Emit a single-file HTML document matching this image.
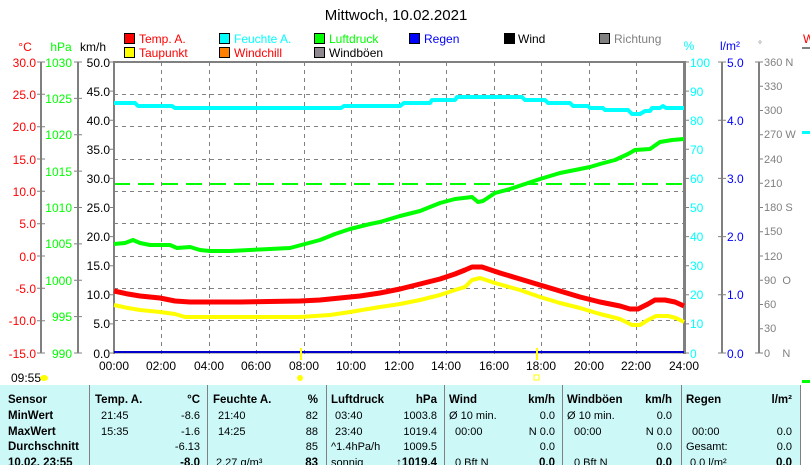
<!DOCTYPE html>
<html><head><meta charset="utf-8"><style>
html,body{margin:0;padding:0;background:#fff;width:810px;height:465px;overflow:hidden}
svg{display:block;font-family:"Liberation Sans",sans-serif}
</style></head><body>
<svg width="810" height="465" viewBox="0 0 810 465" xmlns="http://www.w3.org/2000/svg">
<rect width="810" height="465" fill="#fff"/>
<text x="396" y="20" font-size="15" text-anchor="middle">Mittwoch, 10.02.2021</text>
<!-- legend -->
<g font-size="12">
<rect x="124.5" y="33.5" width="10" height="10" fill="#f00" stroke="#000"/><text x="139" y="43" fill="#f00">Temp. A.</text>
<rect x="219.5" y="33.5" width="10" height="10" fill="#0ff" stroke="#000"/><text x="234" y="43" fill="#0ff">Feuchte A.</text>
<rect x="314.5" y="33.5" width="10" height="10" fill="#0f0" stroke="#000"/><text x="329" y="43" fill="#0f0">Luftdruck</text>
<rect x="409.5" y="33.5" width="10" height="10" fill="#00f" stroke="#000"/><text x="424" y="43" fill="#00f">Regen</text>
<rect x="504.5" y="33.5" width="10" height="10" fill="#000" stroke="#000"/><text x="518" y="43" fill="#000">Wind</text>
<rect x="599.5" y="33.5" width="10" height="10" fill="#808080" stroke="#000"/><text x="614" y="43" fill="#808080">Richtung</text>
<rect x="124.5" y="47.5" width="10" height="10" fill="#ff0" stroke="#000"/><text x="139" y="57" fill="#f00">Taupunkt</text>
<rect x="219.5" y="47.5" width="10" height="10" fill="#ff8000" stroke="#000"/><text x="234" y="57" fill="#f00">Windchill</text>
<rect x="314.5" y="47.5" width="10" height="10" fill="#908890" stroke="#000"/><text x="329" y="57" fill="#000">Windböen</text>
</g>
<!-- units -->
<g font-size="12">
<text x="25" y="51" fill="#f00" text-anchor="middle">°C</text>
<text x="61" y="51" fill="#0f0" text-anchor="middle">hPa</text>
<text x="93" y="51" fill="#000" text-anchor="middle">km/h</text>
<text x="689" y="50" fill="#0ff" text-anchor="middle">%</text>
<text x="730" y="50" fill="#00f" text-anchor="middle">l/m²</text>
<text x="760" y="48" fill="#808080" font-size="10" text-anchor="middle">°</text>
<text x="803" y="43" fill="#f00">W</text>
</g>
<rect x="802" y="47" width="8" height="2" fill="#808080"/>
<rect x="802" y="131" width="8" height="3" fill="#0ff"/>
<!-- grid -->
<g stroke="#808080" stroke-dasharray="4,4" stroke-width="1">
<line x1="114" x2="684" y1="94.5" y2="94.5"/><line x1="114" x2="684" y1="126.5" y2="126.5"/>
<line x1="114" x2="684" y1="159.5" y2="159.5"/><line x1="114" x2="684" y1="191.5" y2="191.5"/>
<line x1="114" x2="684" y1="223.5" y2="223.5"/><line x1="114" x2="684" y1="256.5" y2="256.5"/>
<line x1="114" x2="684" y1="288.5" y2="288.5"/><line x1="114" x2="684" y1="320.5" y2="320.5"/>
<line y1="62" y2="356" x1="161.5" x2="161.5"/><line y1="62" y2="356" x1="209.5" x2="209.5"/>
<line y1="62" y2="356" x1="256.5" x2="256.5"/><line y1="62" y2="356" x1="304.5" x2="304.5"/>
<line y1="62" y2="356" x1="351.5" x2="351.5"/><line y1="62" y2="356" x1="399.5" x2="399.5"/>
<line y1="62" y2="356" x1="446.5" x2="446.5"/><line y1="62" y2="356" x1="494.5" x2="494.5"/>
<line y1="62" y2="356" x1="541.5" x2="541.5"/><line y1="62" y2="356" x1="589.5" x2="589.5"/>
<line y1="62" y2="356" x1="636.5" x2="636.5"/>
</g>
<line x1="114" x2="684" y1="184" y2="184" stroke="#0f0" stroke-width="2" stroke-dasharray="16,8"/>
<!-- frame -->
<line x1="113" x2="686" y1="62" y2="62" stroke="#808080" stroke-width="2"/>
<line x1="114" x2="114" y1="61" y2="354" stroke="#808080" stroke-width="2"/>
<line x1="684.5" x2="684.5" y1="61" y2="354" stroke="#808080" stroke-width="3"/>
<line x1="114" x2="684" y1="353" y2="353" stroke="#808080" stroke-width="1"/>
<line x1="114" x2="684" y1="352" y2="352" stroke="#00c" stroke-width="2"/>
<!-- series -->
<g fill="none" stroke-linejoin="round">
<polyline stroke="#0ff" stroke-width="4" points="114,103 135,103 138,106 172,106 175,108 341,108 344,106 400,106 404,103 430,103 432,100 455,100 457,97 522,97 525,100 545,100 548,103 570,103 573,106 588,106 590,108 603,108 605,110 628,110 632,114 640,114 645,111 650,111 652,108 660,108 663,106 666,108 684,108"/>
<polyline stroke="#0f0" stroke-width="4" points="114,244 125,243 133,240 140,243 150,245 170,245 177,248 190,247 200,250 210,251 230,251 250,250 270,249 290,248 305,244 320,240 335,234 350,229 370,224 380,222 400,216 420,211 440,203 455,199 472,197 478,202 483,201 495,193 510,189 525,184 540,179 560,173 575,170 590,167 600,164 615,160 628,154 635,150 650,149 660,142 672,140 684,139"/>
<polyline stroke="#f00" stroke-width="5" points="114,291 128,294 140,296 160,298 175,301 190,302 240,302 300,301 320,300 340,298 360,296 380,293 400,289 420,284 440,279 455,274 465,270 472,267 482,267 500,273 520,279 540,285 560,291 580,297 600,302 620,306 630,309 638,309 648,304 655,300 665,300 675,302 684,306"/>
<polyline stroke="#ff0" stroke-width="4" points="114,305 128,308 140,310 160,312 175,314 185,317 250,317 300,317 330,315 350,312 380,307 400,304 420,300 440,295 455,290 465,287 472,280 480,278 495,283 520,290 540,297 560,303 580,308 600,314 620,319 632,325 640,325 648,320 656,316 668,316 676,318 684,322"/>
</g>
<!-- left axes -->
<g stroke="#808080" stroke-width="2"><line x1="41" x2="41" y1="62" y2="353"/><line x1="78" x2="78" y1="62" y2="353"/><line x1="722" x2="722" y1="62" y2="353"/><line x1="759" x2="759" y1="62" y2="353"/></g>
<g stroke="#808080" stroke-width="1">
<path d="M37 62h8M37 94.3h8M37 126.7h8M37 159h8M37 191.3h8M37 223.7h8M37 256h8M37 288.3h8M37 320.7h8M37 353h8"/>
<path d="M74 62h8M74 98.4h8M74 134.8h8M74 171.1h8M74 207.5h8M74 243.9h8M74 280.3h8M74 316.6h8M74 353h8"/>
<path d="M110 62h4M110 91.1h4M110 120.2h4M110 149.3h4M110 178.4h4M110 207.5h4M110 236.6h4M110 265.7h4M110 294.8h4M110 323.9h4M110 353h4"/>
<path d="M684 62h5M684 91.1h5M684 120.2h5M684 149.3h5M684 178.4h5M684 207.5h5M684 236.6h5M684 265.7h5M684 294.8h5M684 323.9h5M684 353h5"/>
<path d="M718 62h8M718 120.2h8M718 178.4h8M718 236.6h8M718 294.8h8M718 353h8"/>
<path d="M755 62h8M759 86.3h4M759 110.5h4M759 134.8h4M759 159h4M759 183.3h4M759 207.5h4M759 231.8h4M759 256h4M759 280.3h4M759 304.5h4M759 328.8h4M755 353h8"/>
</g>
<g font-size="12" text-anchor="end">
<g fill="#f00"><text x="36" y="67">30.0</text><text x="36" y="99">25.0</text><text x="36" y="131">20.0</text><text x="36" y="164">15.0</text><text x="36" y="196">10.0</text><text x="36" y="228">5.0</text><text x="36" y="261">0.0</text><text x="36" y="293">-5.0</text><text x="36" y="325">-10.0</text><text x="36" y="358">-15.0</text></g>
<g fill="#0f0"><text x="72" y="67">1030</text><text x="72" y="103">1025</text><text x="72" y="139">1020</text><text x="72" y="176">1015</text><text x="72" y="212">1010</text><text x="72" y="248">1005</text><text x="72" y="285">1000</text><text x="72" y="321">995</text><text x="72" y="358">990</text></g>
<g fill="#000"><text x="110" y="67">50.0</text><text x="110" y="96">45.0</text><text x="110" y="125">40.0</text><text x="110" y="154">35.0</text><text x="110" y="183">30.0</text><text x="110" y="212">25.0</text><text x="110" y="241">20.0</text><text x="110" y="270">15.0</text><text x="110" y="299">10.0</text><text x="110" y="328">5.0</text><text x="110" y="358">0.0</text></g>
</g>
<g font-size="12" fill="#0ff"><text x="690" y="67">100</text><text x="690" y="96">90</text><text x="690" y="125">80</text><text x="690" y="154">70</text><text x="690" y="183">60</text><text x="690" y="212">50</text><text x="690" y="241">40</text><text x="690" y="270">30</text><text x="690" y="299">20</text><text x="690" y="328">10</text><text x="690" y="358">0</text></g>
<g font-size="12" fill="#00f"><text x="727" y="67">5.0</text><text x="727" y="125">4.0</text><text x="727" y="183">3.0</text><text x="727" y="241">2.0</text><text x="727" y="299">1.0</text><text x="727" y="358">0.0</text></g>
<g font-size="11" fill="#808080"><text x="764" y="66">360 N</text><text x="764" y="90">330</text><text x="764" y="114">300</text><text x="764" y="138">270 W</text><text x="764" y="163">240</text><text x="764" y="187">210</text><text x="764" y="211">180 S</text><text x="764" y="235">150</text><text x="764" y="260">120</text><text x="764" y="284">90&#160;&#160;O</text><text x="764" y="308">60</text><text x="764" y="332">30</text><text x="764" y="357">0&#160;&#160;&#160;&#160;N</text></g>
<g font-size="12" text-anchor="middle"><text x="114" y="370">00:00</text><text x="161" y="370">02:00</text><text x="209" y="370">04:00</text><text x="256" y="370">06:00</text><text x="304" y="370">08:00</text><text x="351" y="370">10:00</text><text x="399" y="370">12:00</text><text x="446" y="370">14:00</text><text x="494" y="370">16:00</text><text x="541" y="370">18:00</text><text x="589" y="370">20:00</text><text x="636" y="370">22:00</text><text x="684" y="370">24:00</text></g>
<rect x="300" y="348" width="2" height="12" fill="#ff0"/><rect x="536" y="348" width="2" height="12" fill="#ff0"/>
<circle cx="300" cy="378" r="3" fill="#ff0"/><rect x="534" y="375" width="5" height="5" fill="none" stroke="#ff0"/>
<text x="11" y="382" font-size="12">09:55</text><ellipse cx="44" cy="378" rx="4" ry="3" fill="#ff0"/>
<rect x="802" y="380" width="8" height="3" fill="#0f0"/>
<!-- table -->
<rect x="0" y="385" width="800" height="80" fill="#ccf8f8"/>
<g stroke="#808080"><path d="M89.5 385v80M207.5 385v80M326.5 385v80M444.5 385v80M562.5 385v80M681.5 385v80M800.5 385v80"/></g>
<g font-size="11.5" font-weight="bold">
<text x="8" y="403">Sensor</text><text x="8" y="419">MinWert</text><text x="8" y="435">MaxWert</text><text x="8" y="450">Durchschnitt</text><text x="8" y="466">10.02. 23:55</text>
<text x="95" y="403">Temp. A.</text><text x="200" y="403" text-anchor="end">°C</text>
<text x="213" y="403">Feuchte A.</text><text x="318" y="403" text-anchor="end">%</text>
<text x="331" y="403">Luftdruck</text><text x="437" y="403" text-anchor="end">hPa</text>
<text x="449" y="403">Wind</text><text x="555" y="403" text-anchor="end">km/h</text>
<text x="567" y="403">Windböen</text><text x="672" y="403" text-anchor="end">km/h</text>
<text x="686" y="403">Regen</text><text x="792" y="403" text-anchor="end">l/m²</text>
<text x="200" y="466" text-anchor="end">-8.0</text><text x="318" y="466" text-anchor="end">83</text><text x="437" y="466" text-anchor="end">↑1019.4</text><text x="555" y="466" text-anchor="end">0.0</text><text x="672" y="466" text-anchor="end">0.0</text><text x="792" y="466" text-anchor="end">0.0</text>
</g>
<g font-size="11">
<text x="101" y="419">21:45</text><text x="200" y="419" text-anchor="end">-8.6</text>
<text x="101" y="435">15:35</text><text x="200" y="435" text-anchor="end">-1.6</text>
<text x="200" y="450" text-anchor="end">-6.13</text>
<text x="218" y="419">21:40</text><text x="318" y="419" text-anchor="end">82</text>
<text x="218" y="435">14:25</text><text x="318" y="435" text-anchor="end">88</text>
<text x="318" y="450" text-anchor="end">85</text><text x="216" y="466">2.27 g/m³</text>
<text x="335" y="419">03:40</text><text x="437" y="419" text-anchor="end">1003.8</text>
<text x="335" y="435">23:40</text><text x="437" y="435" text-anchor="end">1019.4</text>
<text x="331" y="450">^1.4hPa/h</text><text x="437" y="450" text-anchor="end">1009.5</text><text x="331" y="466">sonnig</text>
<text x="449" y="419">Ø 10 min.</text><text x="555" y="419" text-anchor="end">0.0</text>
<text x="455" y="435">00:00</text><text x="555" y="435" text-anchor="end">N 0.0</text>
<text x="555" y="450" text-anchor="end">0.0</text><text x="455" y="466">0 Bft N</text>
<text x="567" y="419">Ø 10 min.</text><text x="672" y="419" text-anchor="end">0.0</text>
<text x="574" y="435">00:00</text><text x="672" y="435" text-anchor="end">N 0.0</text>
<text x="672" y="450" text-anchor="end">0.0</text><text x="574" y="466">0 Bft N</text>
<text x="692" y="435">00:00</text><text x="792" y="435" text-anchor="end">0.0</text>
<text x="686" y="450">Gesamt:</text><text x="792" y="450" text-anchor="end">0.0</text><text x="690" y="466">0.0 l/m²</text>
</g>
</svg>
</body></html>
